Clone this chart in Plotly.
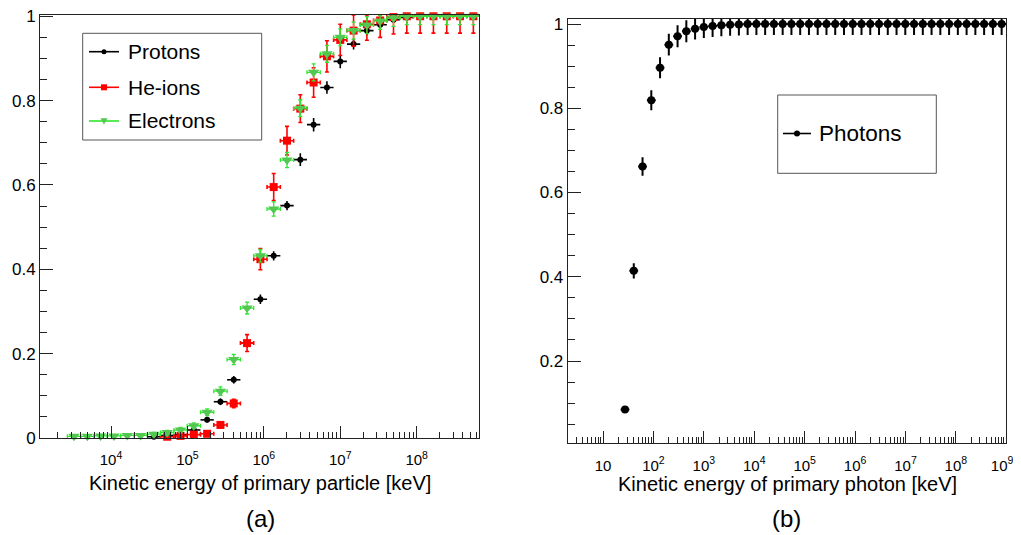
import plotly.graph_objects as go

# ---------------- data ----------------
# common energy grid of the particle plot [keV]
particle_energy_keV = [3281, 4899, 7316, 10929, 16322, 24378, 36408, 54375, 81210,
                       121290, 181134, 270518, 404018, 603393, 901164, 1.346e6,
                       2.010e6, 3.002e6, 4.483e6, 6.696e6, 1.0e7, 1.494e7, 2.231e7,
                       3.331e7, 4.975e7, 7.430e7, 1.110e8, 1.657e8, 2.475e8,
                       3.696e8, 5.521e8]

# Protons (start at grid index 6)
proton_energy_keV = particle_energy_keV[6:]
proton_eff = [0.003, 0.006, 0.008, 0.019, 0.043, 0.086, 0.138, 0.225, 0.329, 0.432,
              0.551, 0.660, 0.743, 0.831, 0.893, 0.934, 0.966, 0.980, 0.992, 0.997,
              1.0, 1.0, 1.0, 1.0, 1.0]
proton_err = [0.002, 0.003, 0.004, 0.005, 0.006, 0.008, 0.009, 0.010, 0.011, 0.011,
              0.011, 0.015, 0.016, 0.015, 0.016, 0.013, 0.011, 0.009, 0.007, 0.005,
              0.004, 0.004, 0.004, 0.004, 0.004]

# He-ions (start at grid index 7)
he_energy_keV = particle_energy_keV[7:]
he_eff = [0.003, 0.005, 0.008, 0.010, 0.031, 0.082, 0.225, 0.424, 0.595, 0.705,
          0.781, 0.843, 0.905, 0.944, 0.966, 0.981, 0.990, 0.998, 1.0, 1.0, 1.0,
          1.0, 1.0, 1.0]
he_err = [0.003, 0.004, 0.004, 0.005, 0.007, 0.010, 0.020, 0.025, 0.032, 0.034,
          0.033, 0.035, 0.037, 0.037, 0.037, 0.038, 0.040, 0.040, 0.040, 0.040,
          0.040, 0.040, 0.040, 0.040]

# Electrons (full grid)
electron_energy_keV = particle_energy_keV
electron_eff = [0.004, 0.004, 0.005, 0.005, 0.006, 0.006, 0.009, 0.013, 0.019, 0.029,
                0.061, 0.111, 0.186, 0.308, 0.432, 0.543, 0.659, 0.782, 0.867, 0.911,
                0.950, 0.966, 0.979, 0.989, 0.996, 1.0, 1.0, 1.0, 1.0, 1.0, 1.0]
electron_err = [0.003, 0.003, 0.003, 0.003, 0.003, 0.003, 0.004, 0.005, 0.006, 0.007,
                0.008, 0.010, 0.012, 0.014, 0.015, 0.017, 0.018, 0.020, 0.020, 0.020,
                0.020, 0.020, 0.020, 0.020, 0.020, 0.020, 0.020, 0.020, 0.020, 0.020,
                0.020]

# Photons
photon_energy_keV = [27.31, 40.75, 60.80, 90.70, 135.3, 201.9, 301.2, 449.4, 670.5,
                     1000.1, 1492, 2226, 3321, 4955, 7393, 11030, 16455, 24550, 36630,
                     54650, 81530, 121650, 181500, 270800, 404000, 602700, 899100,
                     1.3414e6, 2.0013e6, 2.9858e6, 4.4546e6, 6.646e6, 9.915e6,
                     1.4793e7, 2.207e7, 3.2926e7, 4.912e7, 7.329e7, 1.0934e8,
                     1.6313e8, 2.4338e8, 3.6311e8, 5.4172e8, 8.082e8]
photon_eff = [0.085, 0.414, 0.662, 0.819, 0.896, 0.951, 0.971, 0.983, 0.989, 0.993,
              0.995, 0.997, 0.998, 0.999] + [1.0] * 30
photon_err = [0.005, 0.018, 0.022, 0.024, 0.025, 0.026, 0.026] + [0.026] * 37

left_tickvals = [1e4, 1e5, 1e6, 1e7, 1e8]
left_ticktext = ["10<sup>4</sup>", "10<sup>5</sup>", "10<sup>6</sup>",
                 "10<sup>7</sup>", "10<sup>8</sup>"]
right_tickvals = [10, 1e2, 1e3, 1e4, 1e5, 1e6, 1e7, 1e8, 1e9]
right_ticktext = ["10", "10<sup>2</sup>", "10<sup>3</sup>", "10<sup>4</sup>",
                  "10<sup>5</sup>", "10<sup>6</sup>", "10<sup>7</sup>",
                  "10<sup>8</sup>", "10<sup>9</sup>\u00a0\u00a0"]
y_tickvals = [0, 0.2, 0.4, 0.6, 0.8, 1.0]
y_ticktext = ["0", "0.2", "0.4", "0.6", "0.8", "1"]

# ---------------- layout constants ----------------
# the page body has an 8 px margin, so the figure is drawn 8 px smaller and
# reference pixel positions are shifted by that offset
OFF = 8
W, H = 1021 - OFF, 535 - OFF
FONT = "Liberation Sans, Arial, Helvetica, sans-serif"
FRAME = "#222222"
GREEN_M = "#52c852"
GREEN_E = "#2ee82e"
RED = "#ff0000"
HALF_BIN_DEC = 0.087          # half bin width in decades (horizontal error bars)
L_XR = [3.0709, 8.8197]
L_YR = [0.0, 1.003]
R_XR = [0.2993, 9.0]
R_YR = [0.0061, 1.0119]


def px(x):
    return (x - OFF) / W


def py(y):
    return 1 - (y - OFF) / H


def xerr(xs):
    f = 10 ** HALF_BIN_DEC
    return [x * (f - 1) for x in xs], [x * (1 - 1 / f) for x in xs]


def yerr_up(vals, errs, top):
    return [max(0.0, min(e, top - v)) for v, e in zip(vals, errs)]


fig = go.Figure()


def add_series(x, y, err, top, xa, ya, color, ecolor, symbol, size, thick, cap):
    xp, xm = xerr(x)
    fig.add_trace(go.Scatter(
        x=x, y=y, mode="markers", xaxis=xa, yaxis=ya, showlegend=False,
        cliponaxis=False,
        marker=dict(symbol=symbol, size=size, color=color, line=dict(width=0)),
        error_y=dict(type="data", symmetric=False, array=yerr_up(y, err, top),
                     arrayminus=err, color=ecolor, thickness=thick, width=cap),
        error_x=dict(type="data", symmetric=False, array=xp, arrayminus=xm,
                     color=ecolor, thickness=thick, width=cap),
    ))


add_series(proton_energy_keV, proton_eff, proton_err, L_YR[1], "x", "y",
           "#000000", "#000000", "circle", 6, 1.6, 0)
add_series(he_energy_keV, he_eff, he_err, L_YR[1], "x", "y",
           RED, RED, "square", 8, 1.6, 2)
add_series(electron_energy_keV, electron_eff, electron_err, L_YR[1], "x", "y",
           GREEN_M, GREEN_E, "triangle-down", 10, 1.3, 2)
add_series(photon_energy_keV, photon_eff, photon_err, R_YR[1], "x2", "y2",
           "#000000", "#000000", "circle", 8, 2, 0)


def minor_log(lo, hi):
    out = []
    for d in range(int(lo) - 1, int(hi) + 2):
        for m in range(2, 10):
            v = m * 10 ** d
            if 10 ** lo <= v <= 10 ** hi:
                out.append(v)
    return out


common_x = dict(type="log", showline=True, linecolor=FRAME, linewidth=1, mirror=True,
                ticks="inside", ticklen=12, tickcolor=FRAME, tickwidth=1,
                showgrid=False, zeroline=False, tickmode="array", automargin=False,
                ticklabeloverflow="allow",
                tickfont=dict(size=15, color="black", family=FONT))
common_y = dict(showline=True, linecolor=FRAME, linewidth=1, mirror=True,
                ticks="inside", ticklen=13, tickcolor=FRAME, tickwidth=1,
                showgrid=False, zeroline=False, automargin=False,
                tickmode="array", tickvals=y_tickvals, ticktext=y_ticktext,
                ticklabelstandoff=0, ticklabeloverflow="allow",
                minor=dict(ticks="inside", ticklen=7, tick0=0, dtick=0.05,
                           tickcolor=FRAME, tickwidth=1, showgrid=False),
                tickfont=dict(size=17, color="black", family=FONT))

fig.update_layout(
    width=W, height=H, margin=dict(l=0, r=0, t=0, b=0, pad=0, autoexpand=False),
    autosize=False,
    paper_bgcolor="white", plot_bgcolor="white", showlegend=False,
    font=dict(family=FONT, color="black"),
    xaxis=dict(common_x, domain=[px(40), px(479.3)], range=L_XR, anchor="y",
               tickvals=left_tickvals, ticktext=left_ticktext, ticklabelstandoff=8,
               minor=dict(ticks="inside", ticklen=6, tickmode="array",
                          tickvals=minor_log(*L_XR), tickcolor=FRAME, showgrid=False)),
    yaxis=dict(common_y, domain=[py(438), py(15)], range=L_YR, anchor="x"),
    xaxis2=dict(common_x, domain=[px(567.7), px(1006.3)], range=R_XR, anchor="y2",
                tickvals=right_tickvals, ticktext=right_ticktext, ticklabelstandoff=9,
                minor=dict(ticks="inside", ticklen=6, tickmode="array",
                           tickvals=minor_log(*R_XR), tickcolor=FRAME, showgrid=False)),
    yaxis2=dict(common_y, domain=[py(442.7), py(19)], range=R_YR, anchor="x2"),
)

# ---------------- axis titles and panel labels ----------------
ann = [
    dict(text="Kinetic energy of primary particle [keV]", x=px(259.5), y=py(483), size=20),
    dict(text="Kinetic energy of primary photon [keV]", x=px(787), y=py(484), size=20),
    dict(text="(a)", x=px(260), y=py(518), size=24),
    dict(text="(b)", x=px(786.7), y=py(518), size=24),
]
for a in ann:
    fig.add_annotation(text=a["text"], x=a["x"], y=a["y"], xref="paper", yref="paper",
                       xanchor="center", yanchor="middle", showarrow=False,
                       font=dict(size=a["size"], color="black", family=FONT))

# ---------------- legends (drawn by hand, ROOT style) ----------------
shapes = []


def box(x0, y0, x1, y1):
    shapes.append(dict(type="rect", xref="paper", yref="paper", x0=px(x0), x1=px(x1),
                       y0=py(y1), y1=py(y0), line=dict(color="#555555", width=1),
                       fillcolor="white", layer="above"))


def entry(x0, x1, y, color, symbol, msize, label, tx, fsize):
    shapes.append(dict(type="line", xref="paper", yref="paper", x0=px(x0), x1=px(x1),
                       y0=py(y), y1=py(y), line=dict(color=color, width=1.6),
                       layer="above"))
    cx = (x0 + x1) / 2
    r = msize / 2
    if symbol == "circle":
        shapes.append(dict(type="circle", xref="paper", yref="paper",
                           x0=px(cx - r), x1=px(cx + r), y0=py(y + r), y1=py(y - r),
                           fillcolor=color, line=dict(width=0), layer="above"))
    elif symbol == "square":
        shapes.append(dict(type="rect", xref="paper", yref="paper",
                           x0=px(cx - r), x1=px(cx + r), y0=py(y + r), y1=py(y - r),
                           fillcolor=color, line=dict(width=0), layer="above"))
    else:
        path = "M {:.5f},{:.5f} L {:.5f},{:.5f} L {:.5f},{:.5f} Z".format(
            px(cx - r), py(y - r * 0.8), px(cx + r), py(y - r * 0.8), px(cx), py(y + r))
        shapes.append(dict(type="path", xref="paper", yref="paper", path=path,
                           fillcolor=GREEN_M, line=dict(width=0), layer="above"))
    fig.add_annotation(text=label, x=px(tx), y=py(y), xref="paper", yref="paper",
                       xanchor="left", yanchor="middle", showarrow=False,
                       font=dict(size=fsize, color="black", family=FONT))


box(82.7, 33.3, 261.7, 140)
box(777.7, 95, 936.3, 173.3)
entry(89, 119, 51.7, "#000000", "circle", 5, "Protons", 126, 21)
entry(89, 119, 87.3, RED, "square", 6, "He-ions", 126, 21)
entry(89, 119, 121.0, GREEN_E, "triangle", 7, "Electrons", 126, 21)
entry(783, 811, 133.5, "#000000", "circle", 6, "Photons", 817, 22.5)
fig.update_layout(shapes=shapes)

fig.write_html("out.html")
